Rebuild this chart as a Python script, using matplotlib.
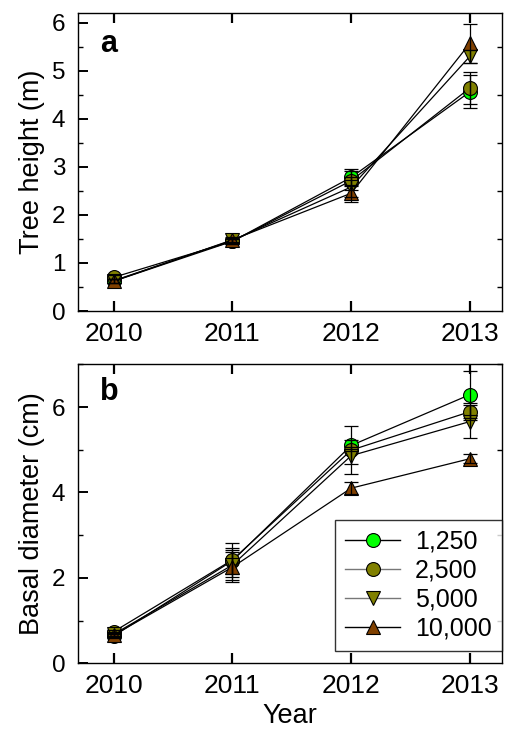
import matplotlib
matplotlib.use("Agg")
import matplotlib.pyplot as plt
from matplotlib.ticker import MultipleLocator, NullLocator
from matplotlib.lines import Line2D

plt.rcParams['font.family'] = ['Liberation Sans', 'DejaVu Sans']

years = [2010, 2011, 2012, 2013]
densities = ['1,250', '2,500', '5,000', '10,000']

# Tree height (m), mean and SE per planting density
height = {
    '1,250':  [0.62, 1.45, 2.78, 4.56],
    '2,500':  [0.70, 1.45, 2.71, 4.64],
    '5,000':  [0.63, 1.47, 2.58, 5.30],
    '10,000': [0.62, 1.48, 2.45, 5.57],
}
height_err = {
    '1,250':  [0.04, 0.05, 0.18, 0.34],
    '2,500':  [0.04, 0.05, 0.20, 0.33],
    '5,000':  [0.04, 0.05, 0.20, 0.13],
    '10,000': [0.04, 0.05, 0.18, 0.40],
}

# Basal diameter (cm), mean and SE per planting density
diameter = {
    '1,250':  [0.64, 2.40, 5.10, 6.29],
    '2,500':  [0.74, 2.42, 4.99, 5.89],
    '5,000':  [0.68, 2.30, 4.86, 5.66],
    '10,000': [0.66, 2.25, 4.10, 4.79],
}
diameter_err = {
    '1,250':  [0.05, 0.30, 0.12, 0.55],
    '2,500':  [0.05, 0.40, 0.56, 0.20],
    '5,000':  [0.05, 0.35, 0.20, 0.38],
    '10,000': [0.05, 0.35, 0.14, 0.10],
}

styles = {
    '1,250':  dict(marker='o', color='#00ff00', legline='black'),
    '2,500':  dict(marker='o', color='#808000', legline='#777777'),
    '5,000':  dict(marker='v', color='#808000', legline='#777777'),
    '10,000': dict(marker='^', color='#804000', legline='black'),
}

W, H = 505, 741
fig = plt.figure(figsize=(W / 100, H / 100), dpi=100)
ax_a = fig.add_axes([78 / W, 1 - 311 / H, 424 / W, 298 / H])
ax_b = fig.add_axes([78 / W, 1 - 663.3 / H, 424 / W, 299 / H])


def draw(ax, data, err):
    for d in densities:
        st = styles[d]
        ax.plot(years, data[d], color='black', lw=0.9, marker=st['marker'],
                markersize=10, markerfacecolor=st['color'],
                markeredgecolor='black', markeredgewidth=0.8, zorder=3)
        ax.errorbar(years, data[d], yerr=err[d], fmt='none', ecolor='black',
                    elinewidth=0.9, capsize=5, capthick=0.9, zorder=4)
    ax.set_xlim(2009.7, 2013.27)
    ax.set_xticks(years)
    ax.xaxis.set_minor_locator(NullLocator())
    ax.tick_params(axis='x', which='major', direction='in', top=True,
                   bottom=True, length=7, width=1.6, labelsize=19, pad=8)
    ax.tick_params(axis='y', which='major', direction='in', left=True,
                   right=False, length=7, width=1.4, labelsize=17.5, pad=9)
    ax.tick_params(axis='y', which='minor', direction='in', left=True,
                   right=True, length=3.5, width=1.0)
    for s in ax.spines.values():
        s.set_linewidth(1.0)


draw(ax_a, height, height_err)
ax_a.set_ylim(0, 6.2)
ax_a.yaxis.set_major_locator(MultipleLocator(1))
ax_a.yaxis.set_minor_locator(MultipleLocator(0.5))
ax_a.set_ylabel('Tree height (m)', fontsize=19.5, labelpad=5)
ax_a.text(0.052, 0.869, 'a', transform=ax_a.transAxes, fontsize=22,
          fontweight='bold', va='baseline')

draw(ax_b, diameter, diameter_err)
ax_b.set_ylim(0, 7)
ax_b.yaxis.set_major_locator(MultipleLocator(2))
ax_b.yaxis.set_minor_locator(MultipleLocator(1))
ax_b.set_ylabel('Basal diameter (cm)', fontsize=19.5, labelpad=5)
ax_b.set_xlabel('Year', fontsize=19.5, labelpad=3)
ax_b.text(0.052, 0.88, 'b', transform=ax_b.transAxes, fontsize=22,
          fontweight='bold', va='baseline')

handles = [Line2D([0], [0], color=styles[d]['legline'], lw=1.0,
                  marker=styles[d]['marker'], markersize=10,
                  markerfacecolor=styles[d]['color'], markeredgecolor='black',
                  markeredgewidth=0.8) for d in densities]
leg = ax_b.legend(handles, densities, loc='lower right',
                  bbox_to_anchor=(1.0, 0.042), borderaxespad=0,
                  fontsize=18, frameon=True, fancybox=False,
                  handlelength=2.2, handletextpad=0.6, labelspacing=0.2,
                  borderpad=0.4, numpoints=1)
leg.get_frame().set_edgecolor('black')
leg.get_frame().set_linewidth(1.0)

fig.savefig('out.png', dpi=100)
